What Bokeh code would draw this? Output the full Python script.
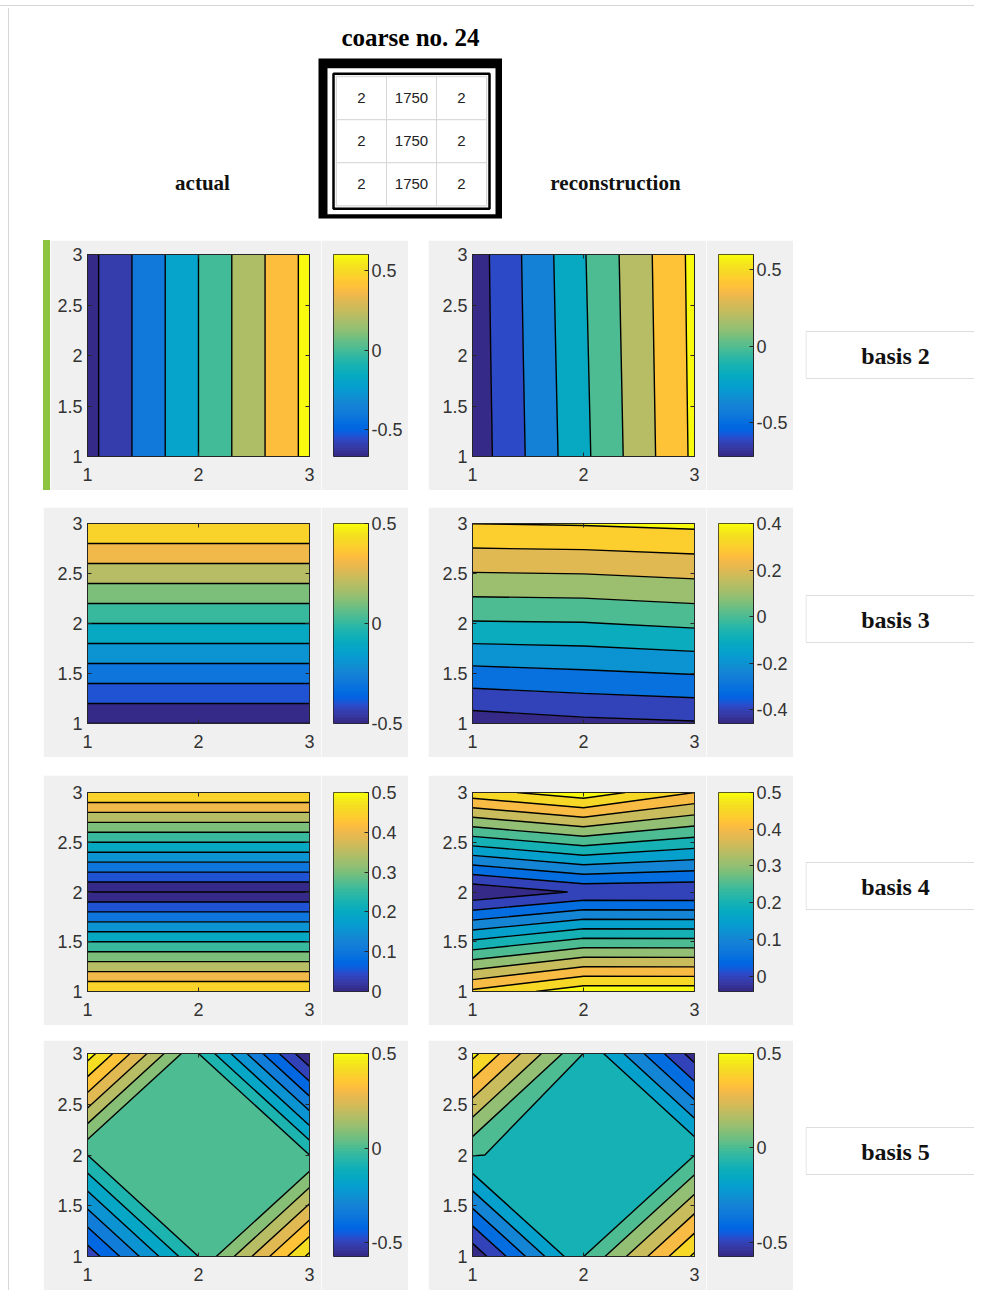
import math
import numpy as np
from bokeh.plotting import figure
from bokeh.models import (Range1d, FixedTicker, CustomJSTickFormatter, LinearColorMapper, Spacer,
                          LinearAxis)
from bokeh.layouts import row, column
from bokeh.embed import file_html
from bokeh.resources import INLINE
from bokeh.core.properties import value

# ---------------------------------------------------------------- data
TITLE = "coarse no. 24"
COL_LABELS = ["actual", "reconstruction"]
BASIS_LABELS = ["basis 2", "basis 3", "basis 4", "basis 5"]
TABLE_VALUES = [[2, 1750, 2], [2, 1750, 2], [2, 1750, 2]]

GRID_X = [1, 2, 3]
GRID_Y = [1, 2, 3]
X_TICKS = [1, 2, 3]
Y_TICKS = [1, 1.5, 2, 2.5, 3]

# fields: rows are y = 1, 2, 3 (bottom to top); columns are x = 1, 2, 3
B2_ACTUAL = [[-0.667, 0.0, 0.667], [-0.667, 0.0, 0.667], [-0.667, 0.0, 0.667]]
B2_RECON = [[-0.721, -0.045, 0.640], [-0.712, -0.030, 0.648], [-0.705, -0.015, 0.655]]
B3_ACTUAL = [[-0.5, -0.5, -0.5], [0.0, 0.0, 0.0], [0.5, 0.5, 0.5]]
B3_RECON = [[-0.458, -0.427, -0.411], [-0.010, -0.005, 0.020], [0.401, 0.408, 0.423]]
B4_ACTUAL = [[0.5, 0.5, 0.5], [0.0, 0.0, 0.0], [0.5, 0.5, 0.5]]
B4_RECON = [[0.46, 0.53, 0.53], [-0.042, 0.007, 0.005], [0.48, 0.53, 0.45]]
B5_ACTUAL = [[-0.47, 0.0, 0.52], [0.0, 0.0, 0.0], [0.54, 0.0, -0.574]]
B5_RECON = [[-0.575, -0.001, 0.52], [0.005, -0.04, -0.001], [0.53, -0.001, -0.55]]

B2_LEVELS = [-0.6, -0.4, -0.2, 0.0, 0.2, 0.4, 0.6]
B3_LEVELS = [-0.5, -0.4, -0.3, -0.2, -0.1, 0.0, 0.1, 0.2, 0.3, 0.4, 0.5]
B4_LEVELS = [0.0, 0.05, 0.1, 0.15, 0.2, 0.25, 0.3, 0.35, 0.4, 0.45, 0.5]
B5_ACTUAL_LEVELS = [-0.5, -0.417, -0.333, -0.25, -0.167, -0.083, 0.0,
                    0.083, 0.167, 0.25, 0.333, 0.417, 0.5]
B5_RECON_LEVELS = [-0.5, -0.4, -0.3, -0.2, -0.1, 0.0, 0.1, 0.2, 0.3, 0.4, 0.5]

CBAR_TICKS_HALF = [-0.5, 0.0, 0.5]
CBAR_TICKS_B3_RECON = [-0.4, -0.2, 0.0, 0.2, 0.4]
CBAR_TICKS_B4 = [0.0, 0.1, 0.2, 0.3, 0.4, 0.5]

# ---------------------------------------------------------------- style
PARULA = [
    (0.2081, 0.1663, 0.5292), (0.2116, 0.1898, 0.5777), (0.2123, 0.2138, 0.6270), (0.2081, 0.2386, 0.6771),
    (0.1959, 0.2645, 0.7279), (0.1707, 0.2919, 0.7792), (0.1253, 0.3242, 0.8303), (0.0591, 0.3598, 0.8683),
    (0.0117, 0.3875, 0.8820), (0.0060, 0.4086, 0.8828), (0.0165, 0.4266, 0.8786), (0.0329, 0.4430, 0.8720),
    (0.0498, 0.4586, 0.8641), (0.0629, 0.4737, 0.8554), (0.0723, 0.4887, 0.8467), (0.0779, 0.5040, 0.8384),
    (0.0793, 0.5200, 0.8312), (0.0749, 0.5375, 0.8263), (0.0641, 0.5570, 0.8240), (0.0488, 0.5772, 0.8228),
    (0.0343, 0.5966, 0.8199), (0.0265, 0.6137, 0.8135), (0.0239, 0.6287, 0.8038), (0.0231, 0.6418, 0.7913),
    (0.0228, 0.6535, 0.7768), (0.0267, 0.6642, 0.7607), (0.0384, 0.6743, 0.7436), (0.0590, 0.6838, 0.7254),
    (0.0843, 0.6928, 0.7062), (0.1133, 0.7015, 0.6859), (0.1453, 0.7098, 0.6646), (0.1801, 0.7177, 0.6424),
    (0.2178, 0.7250, 0.6193), (0.2586, 0.7317, 0.5954), (0.3022, 0.7376, 0.5712), (0.3482, 0.7424, 0.5473),
    (0.3953, 0.7459, 0.5244), (0.4420, 0.7481, 0.5033), (0.4871, 0.7491, 0.4840), (0.5300, 0.7491, 0.4661),
    (0.5709, 0.7485, 0.4494), (0.6099, 0.7473, 0.4337), (0.6473, 0.7456, 0.4188), (0.6834, 0.7435, 0.4044),
    (0.7184, 0.7411, 0.3905), (0.7525, 0.7384, 0.3768), (0.7858, 0.7356, 0.3633), (0.8185, 0.7327, 0.3498),
    (0.8507, 0.7299, 0.3360), (0.8824, 0.7274, 0.3217), (0.9139, 0.7258, 0.3063), (0.9450, 0.7261, 0.2886),
    (0.9739, 0.7314, 0.2666), (0.9938, 0.7455, 0.2403), (0.9990, 0.7653, 0.2164), (0.9955, 0.7861, 0.1967),
    (0.9880, 0.8066, 0.1794), (0.9789, 0.8271, 0.1633), (0.9697, 0.8481, 0.1475), (0.9626, 0.8705, 0.1309),
    (0.9589, 0.8949, 0.1132), (0.9598, 0.9218, 0.0948), (0.9661, 0.9514, 0.0755), (0.9763, 0.9831, 0.0538)]
PARULA_HEX = ["#%02x%02x%02x" % tuple(int(round(c * 255)) for c in rgb) for rgb in PARULA]

PANEL_BG = "#f0f0f0"
FRAME_LINE = "#d6d6d6"
AXIS_COLOR = "#262626"
LABEL_COLOR = "#333333"
SANS = "Liberation Sans"
SERIF = "Liberation Serif"
TICK_FMT = "return String(Math.round(tick * 1000) / 1000);"


def band_colors(levels_lower, cmin, cmax):
    out = []
    for low in levels_lower:
        frac = (low - cmin) / (cmax - cmin)
        idx = int(math.floor(frac * 64 + 1e-9))
        out.append(PARULA_HEX[max(0, min(63, idx))])
    return out


def style_axis(ax, standoff):
    ax.axis_line_color = AXIS_COLOR
    ax.major_tick_line_color = AXIS_COLOR
    ax.major_tick_in = 4
    ax.major_tick_out = 0
    ax.minor_tick_line_color = None
    ax.major_label_text_font = SANS
    ax.major_label_text_font_size = "18px"
    ax.major_label_text_color = LABEL_COLOR
    ax.major_label_standoff = standoff
    ax.formatter = CustomJSTickFormatter(code=TICK_FMT)


def box_axis(ticks):
    ax = LinearAxis(ticker=FixedTicker(ticks=ticks))
    ax.axis_line_color = AXIS_COLOR
    ax.major_tick_line_color = AXIS_COLOR
    ax.major_tick_in = 4
    ax.major_tick_out = 0
    ax.minor_tick_line_color = None
    ax.major_label_text_font_size = "0px"
    ax.major_label_standoff = 0
    ax.major_label_text_alpha = 0
    return ax


def make_panel(z, levels, cbar_ticks, top, bottom, main_width=278, left_border=44):
    zarr = np.array(z, dtype=float)
    zmin, zmax = float(zarr.min()), float(zarr.max())
    used = [lv for lv in levels if zmin <= lv < zmax]
    # colour limits as MATLAB's contourf sets them: lowest data value .. highest level reached
    cmin = zmin
    cmax = max([zmin] + [lv for lv in levels if lv <= zmax + 1e-12])
    # MATLAB counts z >= level as "above": emulate with a tiny downward shift
    fill_levels = ([zmin - 1e-6] +
                   [lv if abs(lv - zmin) < 1e-12 else lv - 1e-9 for lv in used] +
                   [zmax + 1e-6])
    colors = band_colors([zmin] + used, cmin, cmax)

    p = figure(width=main_width, height=250, x_range=Range1d(1, 3), y_range=Range1d(1, 3),
               output_backend="svg", toolbar_location=None,
               min_border_left=left_border, min_border_right=12,
               min_border_top=top, min_border_bottom=bottom,
               border_fill_color=PANEL_BG, background_fill_color="white",
               outline_line_color=AXIS_COLOR, outline_line_width=1)
    p.contour(x=np.array(GRID_X, dtype=float), y=np.array(GRID_Y, dtype=float), z=zarr,
              levels=fill_levels, fill_color=colors, line_color="black", line_width=1.4)
    p.grid.visible = False
    p.xaxis.ticker = FixedTicker(ticks=X_TICKS)
    p.yaxis.ticker = FixedTicker(ticks=Y_TICKS)
    style_axis(p.xaxis[0], 11)
    style_axis(p.yaxis[0], 5)
    p.add_layout(box_axis(X_TICKS), "above")
    p.add_layout(box_axis(Y_TICKS), "right")

    cb = figure(width=87, height=250, x_range=Range1d(0, 1), y_range=Range1d(cmin, cmax),
                x_axis_location=None, y_axis_location="right",
                output_backend="svg", toolbar_location=None,
                min_border_left=12, min_border_right=40,
                min_border_top=top, min_border_bottom=bottom,
                border_fill_color=PANEL_BG, outline_line_color=AXIS_COLOR)
    mapper = LinearColorMapper(palette=PARULA_HEX, low=cmin, high=cmax)
    cb.image(image=[np.linspace(cmin, cmax, 256).reshape(256, 1)], x=0, y=cmin,
             dw=1, dh=cmax - cmin, color_mapper=mapper)
    cb.grid.visible = False
    cb.yaxis.ticker = FixedTicker(ticks=cbar_ticks)
    style_axis(cb.yaxis[0], 3)
    return row(p, cb)


def blank_fig(width, height):
    f = figure(width=width, height=height, x_range=Range1d(0, width), y_range=Range1d(height, 0),
               x_axis_location=None, y_axis_location=None, output_backend="svg",
               toolbar_location=None, min_border=0, outline_line_color=None,
               border_fill_color="white", background_fill_color="white")
    f.grid.visible = False
    return f


def label_fig(text, box_top):
    f = blank_fig(169, 250)
    f.quad(left=0.5, right=400, top=box_top, bottom=box_top + 47,
           fill_color="white", line_color="#dddddd", line_width=1)
    f.text(x=[90], y=[box_top + 24], text=[text], text_align="center", text_baseline="middle",
           text_font=value(SERIF), text_font_style="bold", text_font_size="24px", text_color="#111111")
    return f


# ---------------------------------------------------------------- header
hl = blank_fig(309, 232)
hl.text(x=[193], y=[181], text=[COL_LABELS[0]], text_align="center", text_baseline="middle",
        text_font=value(SERIF), text_font_style="bold", text_font_size="21px", text_color="#111111")

hr = blank_fig(472, 232)
hr.text(x=[113], y=[181], text=[COL_LABELS[1]], text_align="center", text_baseline="middle",
        text_font=value(SERIF), text_font_style="bold", text_font_size="21px", text_color="#111111")

nrow, ncol = len(TABLE_VALUES), len(TABLE_VALUES[0])
tbl = figure(width=184, height=232, x_range=Range1d(-0.86, ncol - 1 + 0.82),
             y_range=Range1d(nrow - 1 + 0.797, -0.924),
             x_axis_location=None, y_axis_location=None, output_backend="svg",
             toolbar_location=None, min_border_left=0, min_border_right=0,
             min_border_top=50, min_border_bottom=22, outline_line_color=None,
             border_fill_color="white", background_fill_color="black", title=TITLE)
tbl.grid.visible = False
tbl.title.align = "center"
tbl.title.text_font = SERIF
tbl.title.text_font_style = "bold"
tbl.title.text_font_size = "25px"
tbl.title.text_color = "#000000"
tbl.title.standoff = 15
cx, cy = (ncol - 1) / 2, (nrow - 1) / 2
tbl.rect(x=[cx], y=[cy], width=ncol + 0.36, height=nrow + 0.40, fill_color="white", line_color=None)
tbl.rect(x=[cx], y=[cy], width=ncol + 0.12, height=nrow + 0.14, fill_color="#f4f4f4",
         line_color="black", line_width=2.5)
cell_x = [c for r in range(nrow) for c in range(ncol)]
cell_y = [r for r in range(nrow) for c in range(ncol)]
cell_t = [str(TABLE_VALUES[r][c]) for r in range(nrow) for c in range(ncol)]
tbl.rect(x=cell_x, y=cell_y, width=1, height=1, fill_color="#ffffff", line_color="#d6d6d6", line_width=1)
tbl.text(x=cell_x, y=cell_y, text=cell_t, text_align="center", text_baseline="middle",
         text_font=value(SANS), text_font_size="15px", text_color="#222222")

header = row(hl, tbl, hr)

# ---------------------------------------------------------------- rows
ROW_BORDERS = [(14, 34), (16, 34), (17, 34), (13, 34)]
BOX_TOPS = [91, 88, 87, 87]

specs = [
    (B2_ACTUAL, B2_LEVELS, CBAR_TICKS_HALF, B2_RECON, B2_LEVELS, CBAR_TICKS_HALF),
    (B3_ACTUAL, B3_LEVELS, CBAR_TICKS_HALF, B3_RECON, B3_LEVELS, CBAR_TICKS_B3_RECON),
    (B4_ACTUAL, B4_LEVELS, CBAR_TICKS_B4, B4_RECON, B4_LEVELS, CBAR_TICKS_B4),
    (B5_ACTUAL, B5_ACTUAL_LEVELS, CBAR_TICKS_HALF, B5_RECON, B5_RECON_LEVELS, CBAR_TICKS_HALF),
]

rows = []
for i, (za, la, ta, zr, lr, tr) in enumerate(specs):
    top, bottom = ROW_BORDERS[i]
    if i == 0:
        bar = Spacer(width=7, height=250, styles={"background-color": "#8cc43f"})
        left = make_panel(za, la, ta, top, bottom, main_width=271, left_border=37)
        lead = [Spacer(width=34, height=250), bar, left]
    else:
        left = make_panel(za, la, ta, top, bottom)
        lead = [Spacer(width=34, height=250), left]
    right = make_panel(zr, lr, tr, top, bottom)
    rows.append(row(*lead, Spacer(width=20, height=250), right, Spacer(width=12, height=250),
                    label_fig(BASIS_LABELS[i], BOX_TOPS[i])))

content = column(header, rows[0], Spacer(width=10, height=17), rows[1], Spacer(width=10, height=18),
                 rows[2], Spacer(width=10, height=15), rows[3])

page = column(
    Spacer(width=974, height=5),
    Spacer(width=974, height=1, styles={"background-color": FRAME_LINE}),
    Spacer(width=974, height=2),
    row(Spacer(width=8, height=1282), Spacer(width=1, height=1282, styles={"background-color": FRAME_LINE}),
        content),
)

open("out.html", "w").write(file_html(page, INLINE, title="coarse no. 24"))
